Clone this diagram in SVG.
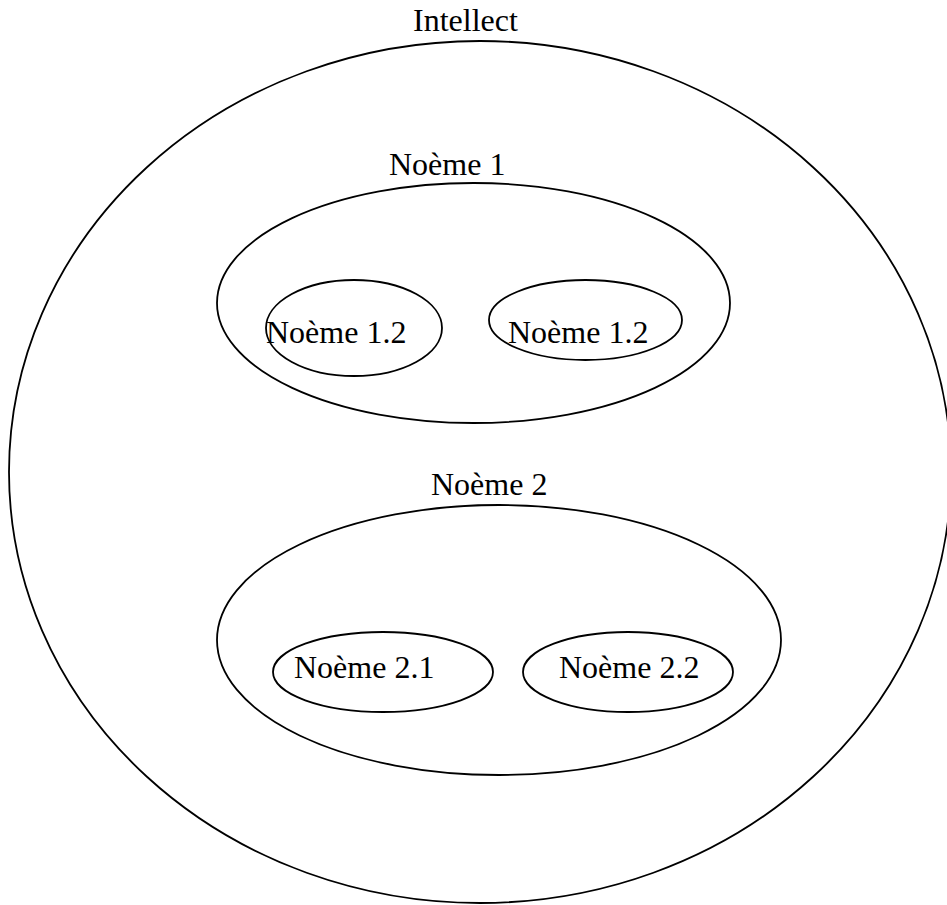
<svg xmlns="http://www.w3.org/2000/svg" width="947" height="905" viewBox="0 0 947 905">
<style>
.s{fill:none;stroke:#000;stroke-width:1.8}
.t{font-family:"Liberation Serif","Times New Roman",serif;font-size:32px;fill:#000}
</style>
<rect width="947" height="905" fill="#fff"/>
<g id="intellect">
<ellipse class="s" cx="480" cy="472" rx="471" ry="431"/>
<text class="t" x="413" y="31">Intellect</text>
</g>
<g id="noeme1">
<ellipse class="s" cx="473.5" cy="303" rx="256.5" ry="120"/>
<text class="t" x="389" y="175">Noème 1</text>
</g>
<g id="noeme1-2a">
<ellipse class="s" cx="354" cy="328" rx="88" ry="48"/>
<text class="t" x="266" y="343">Noème 1.2</text>
</g>
<g id="noeme1-2b">
<ellipse class="s" cx="585.5" cy="320" rx="96.5" ry="40"/>
<text class="t" x="508" y="343">Noème 1.2</text>
</g>
<g id="noeme2">
<ellipse class="s" cx="499" cy="640" rx="282" ry="135"/>
<text class="t" x="431" y="495">Noème 2</text>
</g>
<g id="noeme2-1">
<ellipse class="s" cx="383" cy="672" rx="110" ry="40"/>
<text class="t" x="294" y="678">Noème 2.1</text>
</g>
<g id="noeme2-2">
<ellipse class="s" cx="628" cy="672" rx="105" ry="40"/>
<text class="t" x="559" y="678">Noème 2.2</text>
</g>
<g id="connectors"/>
</svg>
